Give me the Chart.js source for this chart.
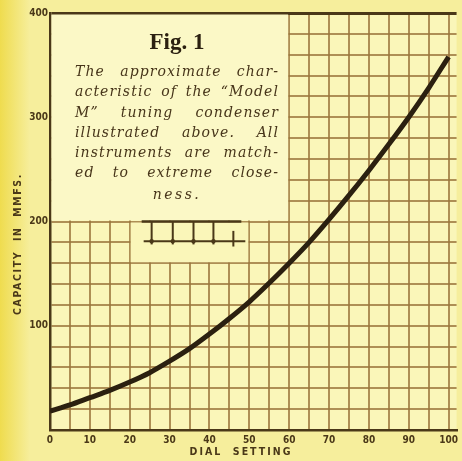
<!DOCTYPE html>
<html>
<head>
<meta charset="utf-8">
<script src="https://cdn.jsdelivr.net/npm/chart.js@4"></script>
<style>
  html, body { margin: 0; padding: 0; background: #f6ee9c; }
  #wrap { width: 462px; height: 461px; }
</style>
</head>
<body>
<div id="wrap"><canvas id="fig1"></canvas></div>
<script>
/* ======================================================================
DATA
====================================================================== */
const dialSetting = [0, 5, 10, 15, 20, 25, 30, 35, 40, 45, 50, 55, 60, 65, 70, 75, 80, 85, 90, 95, 100];
const capacity = [18, 24, 31, 38, 46, 55, 66, 78, 92, 107, 123, 141, 160, 180, 202, 225, 249, 274, 300, 328, 358];
const xTickLabels = [0, 10, 20, 30, 40, 50, 60, 70, 80, 90, 100];
const yTickLabels = [100, 200, 300, 400];
const captionLines = [
  'The approximate char-',
  'acteristic of the \u201cModel',
  'M\u201d tuning condenser',
  'illustrated above. All',
  'instruments are match-',
  'ed to extreme close-',
  'ness.'
];

/* ======================================================================
Colours
====================================================================== */
const paper = '#f6ee9c';
const gridPaper = '#faf6b9';
const boxPaper = '#fbf8c6';
const gridBrown = 'rgba(155, 118, 60, 0.8)';
const inkBrown = '#4a3818';
const inkDark = '#2b2010';

/* ======================================================================
Plugins
====================================================================== */
const paperPlugin = {
  id: 'paper',
  beforeDraw(chart) {
    const { ctx, chartArea: a } = chart;
    ctx.save();
    ctx.fillStyle = paper;
    ctx.fillRect(0, 0, chart.width, chart.height);
    const g = ctx.createLinearGradient(0, 0, 30, 0);
    g.addColorStop(0, 'rgba(238, 218, 70, 0.9)');
    g.addColorStop(1, 'rgba(238, 218, 70, 0)');
    ctx.fillStyle = g;
    ctx.fillRect(0, 0, 30, chart.height);
    ctx.fillStyle = gridPaper;
    ctx.fillRect(a.left, a.top, a.right - a.left, a.bottom - a.top);
    ctx.restore();
  }
};

function justifyLine(ctx, text, left, width, y) {
  const words = text.split(' ');
  const total = words.reduce((s, w) => s + ctx.measureText(w).width, 0);
  const gap = words.length > 1 ? (width - total) / (words.length - 1) : 0;
  let x = left;
  words.forEach(w => {
    ctx.fillText(w, x, y);
    x += ctx.measureText(w).width + gap;
  });
}

const insetPlugin = {
  id: 'inset',
  beforeDatasetsDraw(chart) {
    const { ctx } = chart;
    const xs = chart.scales.x;
    const ys = chart.scales.y;
    ctx.save();

    // caption box, grid left out
    ctx.fillStyle = boxPaper;
    const bx0 = xs.getPixelForValue(0) + 1.5;
    const bx1 = xs.getPixelForValue(60) - 1;
    const by0 = ys.getPixelForValue(400) + 1.5;
    const by1 = ys.getPixelForValue(200) - 1;
    ctx.fillRect(bx0, by0, bx1 - bx0, by1 - by0);

    // clear patch for the condenser symbol
    const sx0 = xs.getPixelForValue(20) + 1;
    const sx1 = xs.getPixelForValue(50) - 1;
    const sy0 = ys.getPixelForValue(200) + 1;
    const sy1 = ys.getPixelForValue(160) - 1;
    ctx.fillStyle = gridPaper;
    ctx.fillRect(sx0, sy0, sx1 - sx0, sy1 - sy0);

    // condenser symbol
    ctx.strokeStyle = inkBrown;
    ctx.fillStyle = inkBrown;
    ctx.lineWidth = 2.5;
    ctx.beginPath();
    ctx.moveTo(xs.getPixelForValue(23), ys.getPixelForValue(200));
    ctx.lineTo(xs.getPixelForValue(48), ys.getPixelForValue(200));
    ctx.stroke();
    ctx.lineWidth = 2;
    ctx.beginPath();
    ctx.moveTo(xs.getPixelForValue(23.5), ys.getPixelForValue(181));
    ctx.lineTo(xs.getPixelForValue(49), ys.getPixelForValue(181));
    ctx.stroke();
    [25.5, 30.8, 36, 41].forEach(v => {
      const px = xs.getPixelForValue(v);
      ctx.beginPath();
      ctx.moveTo(px, ys.getPixelForValue(200));
      ctx.lineTo(px, ys.getPixelForValue(178));
      ctx.stroke();
      ctx.beginPath();
      ctx.arc(px, ys.getPixelForValue(181), 2.2, 0, Math.PI * 2);
      ctx.fill();
    });
    const sp = xs.getPixelForValue(46);
    ctx.beginPath();
    ctx.moveTo(sp, ys.getPixelForValue(191));
    ctx.lineTo(sp, ys.getPixelForValue(176));
    ctx.stroke();

    // caption text
    ctx.textBaseline = 'middle';
    ctx.textAlign = 'center';
    ctx.fillStyle = inkDark;
    ctx.font = 'bold 23px "Liberation Serif"';
    ctx.fillText('Fig. 1', 177, 43);

    ctx.textAlign = 'left';
    ctx.fillStyle = '#47351a';
    ctx.font = 'italic 14px "DejaVu Serif"';
    ctx.letterSpacing = '1.1px';
    const lineY = [72, 92, 113, 133, 153, 173];
    captionLines.slice(0, 6).forEach((t, i) => justifyLine(ctx, t, 75, 204, lineY[i]));
    ctx.letterSpacing = '2.5px';
    ctx.textAlign = 'center';
    ctx.fillText(captionLines[6], 177, 195);
    ctx.restore();
  }
};

const axisTitlePlugin = {
  id: 'axisTitles',
  afterDraw(chart) {
    const { ctx } = chart;
    ctx.save();
    ctx.fillStyle = inkBrown;
    ctx.font = 'bold 10.5px "DejaVu Sans Condensed"';
    ctx.textAlign = 'center';
    ctx.textBaseline = 'middle';
    ctx.letterSpacing = '2px';
    ctx.fillText('DIAL  SETTING', 241, 452);
    ctx.translate(18, 244);
    ctx.rotate(-Math.PI / 2);
    ctx.letterSpacing = '1.6px';
    ctx.fillText('CAPACITY  IN  MMFS.', 0, 0);
    ctx.restore();
  }
};

/* ======================================================================
Chart
====================================================================== */
const fig1Canvas = document.querySelector('#fig1');

let fig1Data = {
  datasets: [{
    data: dialSetting.map((d, i) => ({ x: d, y: capacity[i] })),
    borderColor: inkDark,
    borderWidth: 5,
    pointRadius: 0,
    cubicInterpolationMode: 'monotone',
    fill: false
  }]
};

let fig1Options = {
  responsive: true,
  maintainAspectRatio: false,
  animation: false,
  layout: {
    padding: { left: 0, right: 0, top: 13, bottom: 0 }
  },
  plugins: {
    legend: { display: false },
    tooltip: { enabled: false }
  },
  scales: {
    x: {
      type: 'linear',
      min: 0,
      max: 102,
      afterFit: s => { s.height = 31; },
      ticks: {
        stepSize: 5,
        includeBounds: false,
        autoSkip: false,
        maxRotation: 0,
        padding: 4,
        color: inkBrown,
        font: { family: 'DejaVu Sans Condensed', weight: 'bold', size: 10 },
        callback: v => xTickLabels.includes(v) ? String(v) : ''
      },
      grid: { color: gridBrown, lineWidth: 2, drawTicks: false },
      border: { color: inkBrown, width: 2.5 }
    },
    y: {
      min: 0,
      max: 400,
      afterFit: s => { s.width = 50; },
      ticks: {
        stepSize: 20,
        autoSkip: false,
        padding: 2,
        color: inkBrown,
        font: { family: 'DejaVu Sans Condensed', weight: 'bold', size: 10 },
        callback: v => yTickLabels.includes(v) ? String(v) : ''
      },
      grid: {
        color: c => c.tick.value === 400 ? inkBrown : gridBrown,
        lineWidth: c => c.tick.value === 400 ? 3 : 2,
        drawTicks: false
      },
      border: { color: inkBrown, width: 2.5 }
    }
  }
};

let fig1Chart = new Chart(fig1Canvas, {
  type: 'line',
  data: fig1Data,
  options: fig1Options,
  plugins: [paperPlugin, insetPlugin, axisTitlePlugin]
});
</script>
</body>
</html>
